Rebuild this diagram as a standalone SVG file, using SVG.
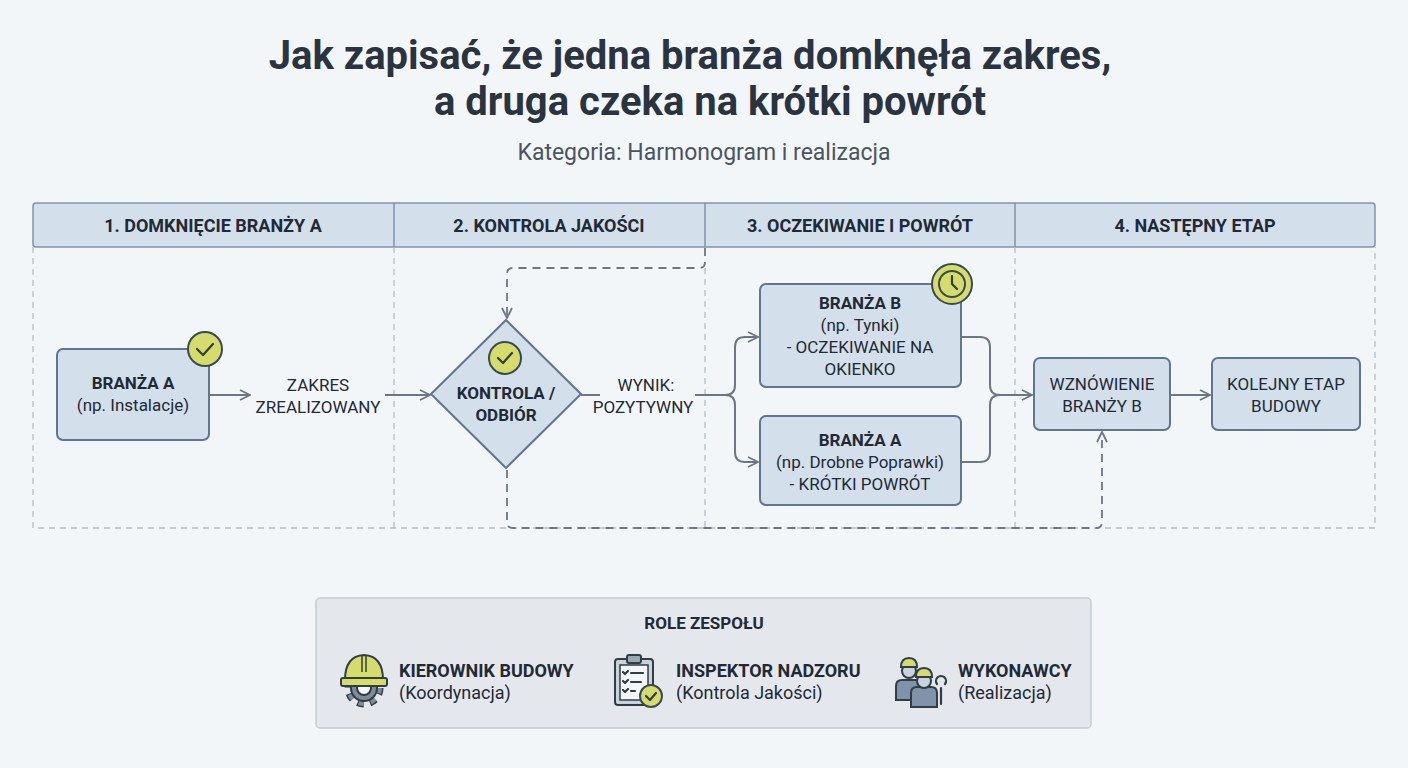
<svg xmlns="http://www.w3.org/2000/svg" width="1408" height="768" viewBox="0 0 1408 768">
<style>
text{font-family:Roboto,"Liberation Sans",sans-serif;fill:#1f2a36}
.h{font-size:18px;font-weight:bold;text-anchor:middle}
.b{font-size:17px;font-weight:bold;text-anchor:middle}
.n{font-size:17px;text-anchor:middle}
.box{fill:#d3dfeb;stroke:#5f7590;stroke-width:2}
.lane{fill:none;stroke:#b3bcc6;stroke-width:1.3;stroke-dasharray:6 5}
.ln{fill:none;stroke:#6b7785;stroke-width:2}
.dl{fill:none;stroke:#6b7785;stroke-width:1.8;stroke-dasharray:8 6}
.badge{fill:#d5dc6c;stroke:#3a4a52;stroke-width:2}
.ic{fill:none;stroke:#2f3d44;stroke-width:2.2;stroke-linecap:round;stroke-linejoin:round}
</style>
<defs>
<marker id="ar" viewBox="0 0 12 12" refX="11" refY="6" markerWidth="12" markerHeight="12" markerUnits="userSpaceOnUse" orient="auto"><path d="M1 1L11 6L1 11" fill="none" stroke="#6b7785" stroke-width="1.8"/></marker>
</defs>
<rect width="1408" height="768" fill="#f3f6f9"/>
<g id="title">
<text x="690" y="69" style="font-size:40px;font-weight:bold;text-anchor:middle;fill:#2a3440">Jak zapisać, że jedna branża domknęła zakres,</text>
<text x="710" y="115" style="font-size:40px;font-weight:bold;text-anchor:middle;fill:#2a3440">a druga czeka na krótki powrót</text>
<text x="704" y="160" style="font-size:23px;text-anchor:middle;fill:#4a5560">Kategoria: Harmonogram i realizacja</text>
</g>
<g id="lanes">
<rect x="33" y="203" width="1342" height="44" fill="#d3dfeb" stroke="#7f94ab" stroke-width="1.5" rx="3"/>
<path d="M394 203V247M705 203V247M1015 203V247" stroke="#7f94ab" stroke-width="1.5"/>
<path class="lane" d="M33 247V528H1375V247M394 247V528M705 268V528M1015 247V528"/>
<text class="h" x="213" y="232">1. DOMKNIĘCIE BRANŻY A</text>
<text class="h" x="549" y="232">2. KONTROLA JAKOŚCI</text>
<text class="h" x="860" y="232">3. OCZEKIWANIE I POWRÓT</text>
<text class="h" x="1195" y="232">4. NASTĘPNY ETAP</text>
</g>
<g id="connectors">
<path class="ln" d="M210 395H250" marker-end="url(#ar)"/>
<path class="ln" d="M385 395H430" marker-end="url(#ar)"/>
<path class="ln" d="M581 395H600M695 395H725"/>
<path class="ln" d="M725 395Q735 395 735 385V347Q735 337 745 337H758" marker-end="url(#ar)"/>
<path class="ln" d="M725 395Q735 395 735 405V452Q735 462 745 462H758" marker-end="url(#ar)"/>
<path class="ln" d="M962 337H980Q990 337 990 347V385Q990 395 1000 395H1032" marker-end="url(#ar)"/>
<path class="ln" d="M962 462H980Q990 462 990 452V405Q990 395 1000 395"/>
<path class="ln" d="M1171 395H1210" marker-end="url(#ar)"/>
<path class="dl" d="M705 248V262Q705 268 699 268H513Q507 268 507 274V318" marker-end="url(#ar)"/>
<path class="dl" d="M507 470V522Q507 528 513 528H1096Q1102 528 1102 522V432" marker-end="url(#ar)"/>
</g>
<g id="brA">
<rect class="box" x="57" y="349" width="152" height="91" rx="6"/>
<text class="b" x="133" y="389">BRANŻA A</text>
<text class="n" x="133" y="411">(np. Instalacje)</text>
<circle class="badge" cx="205" cy="349" r="17"/>
<path class="ic" d="M197 349l6 6l10-11"/>
</g>
<g id="zakres">
<text class="n" x="318" y="391">ZAKRES</text>
<text class="n" x="318" y="413">ZREALIZOWANY</text>
</g>
<g id="kontrola">
<path class="box" d="M506 320L581 394L506 468L431 394Z"/>
<circle class="badge" cx="505" cy="358" r="16"/>
<path class="ic" d="M498 358l5 5l9-10"/>
<text class="b" x="506" y="399">KONTROLA /</text>
<text class="b" x="506" y="421">ODBIÓR</text>
</g>
<g id="wynik">
<text class="n" x="646" y="391">WYNIK:</text>
<text class="n" x="643" y="413">POZYTYWNY</text>
</g>
<g id="brB">
<rect class="box" x="760" y="284" width="201" height="103" rx="6"/>
<text class="b" x="860" y="309">BRANŻA B</text>
<text class="n" x="860" y="331">(np. Tynki)</text>
<text class="n" x="860" y="353">- OCZEKIWANIE NA</text>
<text class="n" x="860" y="375">OKIENKO</text>
<circle class="badge" cx="952" cy="284" r="20"/>
<circle cx="952" cy="284" r="13" fill="none" stroke="#3a4a52" stroke-width="2"/>
<path class="ic" d="M952 276v8l5 5"/>
</g>
<g id="brA2">
<rect class="box" x="760" y="416" width="201" height="89" rx="6"/>
<text class="b" x="860" y="446">BRANŻA A</text>
<text class="n" x="860" y="468">(np. Drobne Poprawki)</text>
<text class="n" x="860" y="490">- KRÓTKI POWRÓT</text>
</g>
<g id="wzn">
<rect class="box" x="1034" y="358" width="136" height="72" rx="6"/>
<text class="n" x="1102" y="390">WZNÓWIENIE</text>
<text class="n" x="1102" y="412">BRANŻY B</text>
</g>
<g id="kolejny">
<rect class="box" x="1212" y="358" width="148" height="72" rx="6"/>
<text class="n" x="1286" y="390">KOLEJNY ETAP</text>
<text class="n" x="1286" y="412">BUDOWY</text>
</g>
<g id="roles">
<rect x="316" y="598" width="775" height="130" rx="4" fill="#e4e8ec" stroke="#c5ccd3" stroke-width="1.5"/>
<text class="b" x="704" y="629">ROLE ZESPOŁU</text>
<g id="r1">
<circle cx="364" cy="688" r="15" fill="none" stroke="#2f3d44" stroke-width="9" stroke-dasharray="6 5.8"/>
<circle cx="364" cy="688" r="15" fill="none" stroke="#7d8c99" stroke-width="6" stroke-dasharray="5 6.8"/>
<circle cx="364" cy="688" r="13" fill="#7d8c99" stroke="#2f3d44" stroke-width="2"/>
<circle cx="364" cy="688" r="7" fill="#f3f6f9" stroke="#2f3d44" stroke-width="2"/>
<path d="M345 680q0-24 19-25q19 1 19 25z" fill="#d5dc6c" stroke="#2f3d44" stroke-width="2"/>
<path d="M362 656v16M366 656v16" stroke="#2f3d44" stroke-width="1.5"/>
<rect x="341" y="678" width="46" height="8" rx="2" fill="#d5dc6c" stroke="#2f3d44" stroke-width="2"/>
<text x="399" y="677" style="font-size:18px;font-weight:bold">KIEROWNIK BUDOWY</text>
<text x="399" y="699" style="font-size:18px">(Koordynacja)</text>
</g>
<g id="r2">
<rect x="615" y="659" width="38" height="46" rx="3" fill="#c9d3dc" stroke="#2f3d44" stroke-width="2"/>
<rect x="620" y="665" width="28" height="35" fill="#f3f6f9" stroke="#2f3d44" stroke-width="1.5"/>
<rect x="627" y="655" width="14" height="8" rx="2" fill="#9aa8b4" stroke="#2f3d44" stroke-width="2"/>
<path class="ic" d="M623 672l2 2l3-3M631 673h12M623 681l2 2l3-3M631 682h10M623 690l2 2l3-3M631 691h4" stroke-width="1.5"/>
<circle class="badge" cx="651" cy="696" r="11"/>
<path class="ic" d="M646 696l4 4l6-7"/>
<text x="676" y="677" style="font-size:18px;font-weight:bold">INSPEKTOR NADZORU</text>
<text x="676" y="699" style="font-size:18px">(Kontrola Jakości)</text>
</g>
<g id="r3">
<path d="M896 700v-14q0-6 6-6h14q6 0 6 6v14z" fill="#7f94ab" stroke="#2f3d44" stroke-width="2"/>
<circle cx="909" cy="671" r="7" fill="#c9d3dc" stroke="#2f3d44" stroke-width="2"/>
<path d="M901 667q0-9 8-9q8 0 8 9z" fill="#d5dc6c" stroke="#2f3d44" stroke-width="2"/>
<path d="M911 707v-14q0-6 6-6h14q6 0 6 6v14z" fill="#7f94ab" stroke="#2f3d44" stroke-width="2"/>
<circle cx="924" cy="681" r="7" fill="#c9d3dc" stroke="#2f3d44" stroke-width="2"/>
<path d="M916 677q0-9 8-9q8 0 8 9z" fill="#d5dc6c" stroke="#2f3d44" stroke-width="2"/>
<path class="ic" d="M941 704v-16M937 684a5 5 0 1 1 8 0"/>
<text x="958" y="677" style="font-size:18px;font-weight:bold">WYKONAWCY</text>
<text x="958" y="699" style="font-size:18px">(Realizacja)</text>
</g>
</g>
</svg>
